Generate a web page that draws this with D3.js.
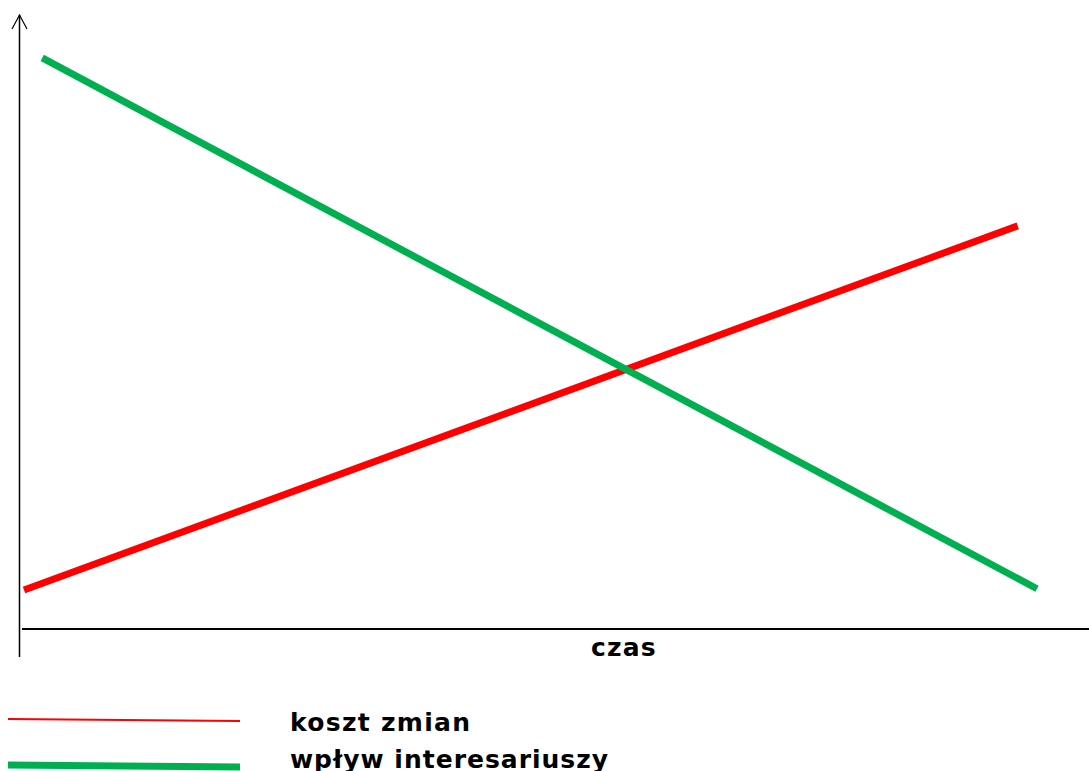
<!DOCTYPE html>
<html>
<head>
<meta charset="utf-8">
<script src="https://cdn.jsdelivr.net/npm/d3@7"></script>
<style>
  html, body { margin: 0; padding: 0; background: #fff; overflow: hidden; }
  text { font-family: Verdana, "DejaVu Sans", sans-serif; font-weight: bold; }
</style>
</head>
<body>
<div id="content"></div>
<script>
// series: [time, value] on a 0..100 scale
const seriesNames = ["koszt zmian", "wpływ interesariuszy"];
const seriesColors = ["#ff0000", "#00b050"];
const kosztZmian = [[0, 6.2], [98.1, 65.6]];
const wplywInteresariuszy = [[1.8, 93.0], [100, 6.4]];
const xLabel = "czas";

const W = 1089, H = 771;

const svg = d3.select("#content")
    .append("svg")
    .attr("width", W)
    .attr("height", H);

const x = d3.scaleLinear().domain([0, 100]).range([24, 1037]);
const y = d3.scaleLinear().domain([0, 100]).range([628, 15]);

const line = d3.line()
    .x(d => x(d[0]))
    .y(d => y(d[1]));

// axes (plain lines, no ticks)
svg.append("line")
    .attr("x1", 19.5).attr("y1", 15)
    .attr("x2", 19.5).attr("y2", 657)
    .attr("stroke", "#000").attr("stroke-width", 1.5);

svg.append("path")
    .attr("d", "M12,29 L19.5,15 L27,29")
    .attr("fill", "none")
    .attr("stroke", "#000").attr("stroke-width", 1.2);

svg.append("line")
    .attr("x1", 22).attr("y1", y(0) + 1)
    .attr("x2", W).attr("y2", y(0) + 1)
    .attr("stroke", "#000").attr("stroke-width", 2);

svg.append("text")
    .attr("x", 624)
    .attr("y", 656)
    .attr("text-anchor", "middle")
    .attr("font-size", 25)
    .attr("letter-spacing", 1.2)
    .text(xLabel);

// series lines
const allSeries = [kosztZmian, wplywInteresariuszy];
svg.selectAll(".series").data(allSeries).enter()
    .append("path")
    .attr("class", "series")
    .attr("d", d => line(d))
    .attr("fill", "none")
    .attr("stroke", (d, i) => seriesColors[i])
    .attr("stroke-width", 7);

// legend
const legendY = [720, 766];
const legendW = [2, 7];
const legend = svg.selectAll(".legend").data(seriesNames).enter()
    .append("g")
    .attr("class", "legend");

legend.append("line")
    .attr("x1", 8).attr("y1", (d, i) => legendY[i] - 1)
    .attr("x2", 240).attr("y2", (d, i) => legendY[i] + 1)
    .attr("stroke", (d, i) => seriesColors[i])
    .attr("stroke-width", (d, i) => legendW[i]);

legend.append("text")
    .attr("x", 290)
    .attr("y", (d, i) => [731, 768][i])
    .attr("font-size", 25)
    .attr("letter-spacing", (d, i) => [1.3, 1.0][i])
    .text(d => d);
</script>
</body>
</html>
